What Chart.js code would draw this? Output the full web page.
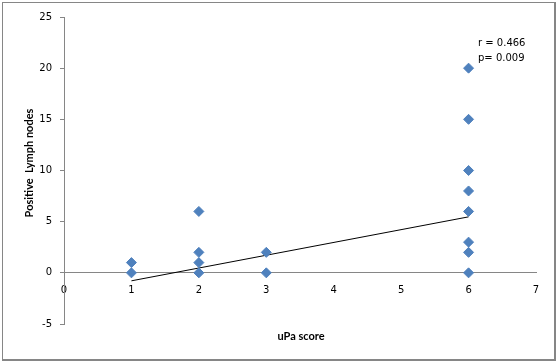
<!DOCTYPE html>
<html>
<head>
<meta charset="utf-8">
<script src="https://cdn.jsdelivr.net/npm/chart.js@4/dist/chart.umd.min.js"></script>
<style>
html,body{margin:0;padding:0;background:#fff;}
#wrap{position:relative;width:557px;height:363px;}
#frame{position:absolute;left:2px;top:2px;width:551px;height:356px;border:1px solid #868686;border-right-width:2px;border-bottom-width:2px;box-sizing:content-box;pointer-events:none;}
canvas{position:absolute;left:0;top:0;}
</style>
</head>
<body>
<div id="wrap"><canvas id="c" width="557" height="363"></canvas><div id="frame"></div></div>
<script>
// Data
const uPaScore = [1, 1, 2, 2, 2, 2, 3, 3, 6, 6, 6, 6, 6, 6, 6, 6];
const lymphNodes = [0, 1, 0, 1, 2, 6, 0, 2, 0, 2, 3, 6, 8, 10, 15, 20];
const trendX = [1, 6];
const trendSlope = 1.25;
const trendIntercept = -2.03;
const xTicks = [0, 1, 2, 3, 4, 5, 6, 7];
const yTicks = [-5, 0, 5, 10, 15, 20, 25];
const statsText = ["r = 0.466", "p= 0.009"];
const xTitle = "uPa score";
const yTitle = "Positive  Lymph nodes";

const points = uPaScore.map((x, i) => ({x: x, y: lymphNodes[i]}));
const trend = trendX.map(x => ({x: x, y: trendSlope * x + trendIntercept}));

const FONT = "'DejaVu Sans', Verdana, sans-serif";
const TFONT = "Lato, 'Open Sans', sans-serif";

const textPlugin = {
  id: 'texts',
  afterDraw(chart) {
    const ctx = chart.ctx;
    ctx.save();
    ctx.fillStyle = '#000';
    ctx.font = "10px " + FONT;
    ctx.textAlign = 'left';
    ctx.textBaseline = 'middle';
    ctx.fillText(statsText[0], 478, 43);
    ctx.fillText(statsText[1], 478, 58);
    ctx.font = "bold 11px " + TFONT;
    ctx.textAlign = 'center';
    ctx.fillText(xTitle, 301, 336);
    ctx.translate(29, 163);
    ctx.rotate(-Math.PI / 2);
    ctx.fillText(yTitle, 0, 0);
    ctx.restore();
  }
};

new Chart(document.getElementById('c'), {
  type: 'scatter',
  data: {
    datasets: [
      {
        data: points,
        pointStyle: 'rectRot',
        pointRadius: 5,
        pointHoverRadius: 5,
        backgroundColor: '#4F81BD',
        borderColor: '#4F81BD',
        borderWidth: 1,
        order: 1
      },
      {
        type: 'line',
        data: trend,
        borderColor: '#000',
        borderWidth: 1,
        pointRadius: 0,
        fill: false,
        order: 2
      }
    ]
  },
  options: {
    responsive: false,
    animation: false,
    events: [],
    layout: {padding: {left: 20, right: 21, top: 17, bottom: 39}},
    plugins: {legend: {display: false}, tooltip: {enabled: false}},
    scales: {
      x: {
        type: 'linear',
        position: {y: 0},
        min: 0, max: 7,
        afterBuildTicks: s => { s.ticks = xTicks.map(v => ({value: v})); },
        grid: {display: false, drawTicks: false},
        border: {display: true, color: '#868686', width: 1},
        ticks: {color: '#000', font: {family: FONT, size: 10}, padding: 12, maxRotation: 0}
      },
      y: {
        type: 'linear',
        position: 'left',
        min: -5, max: 25,
        afterBuildTicks: s => { s.ticks = yTicks.map(v => ({value: v})); },
        afterFit: s => { s.width = 44; },
        grid: {display: true, drawOnChartArea: false, drawTicks: true, tickLength: 4, color: '#868686'},
        border: {display: true, color: '#868686', width: 1},
        ticks: {color: '#000', font: {family: FONT, size: 10}, padding: 8}
      }
    }
  },
  plugins: [textPlugin]
});
</script>
</body>
</html>
